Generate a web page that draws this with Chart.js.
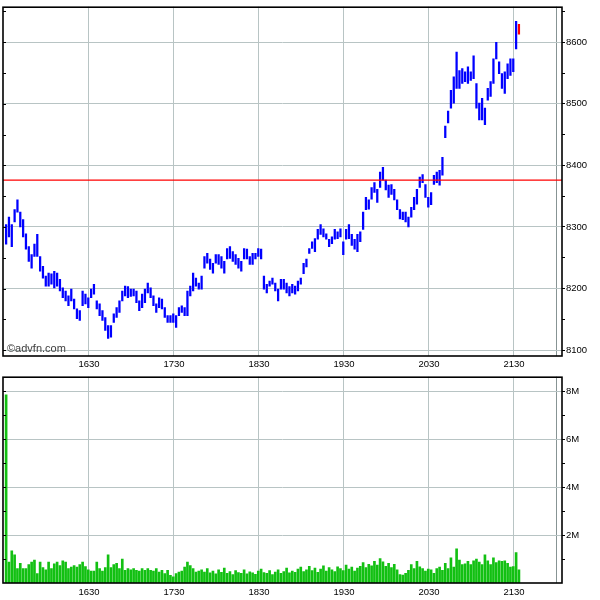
<!DOCTYPE html>
<html>
<head>
<meta charset="utf-8">
<script src="https://cdn.jsdelivr.net/npm/chart.js@4.4.1/dist/chart.umd.min.js"></script>
<style>
  html, body { margin: 0; padding: 0; background: #fff; }
  #wrap { position: relative; width: 600px; height: 600px; background: #fff; overflow: hidden; }
  .pane { position: absolute; left: 0; width: 600px; }
  #credit { position: absolute; left: 7px; top: 342px; font: 11px "Liberation Sans", Arial, sans-serif; line-height: 12px; color: #404040; }
</style>
</head>
<body>
<div id="wrap">
  <div class="pane" style="top:0;height:370px"><canvas id="price" width="600" height="370"></canvas></div>
  <div class="pane" style="top:370px;height:230px"><canvas id="vol" width="600" height="230"></canvas></div>
  <div id="credit">©advfn.com</div>
</div>
<script>
// ---- data ----
const START_MIN = 931.5;   // first bar time in minutes after midnight (15:31.5)
const STEP_MIN = 2;        // minutes between bars

const highs = [
  8304,8316,8304,8328,8344,8324,8312,8289,8268,8255,
  8272,8288,8252,8236,8220,8225,8224,8228,8225,8215,
  8201,8196,8188,8199,8183,8167,8164,8196,8191,8185,
  8199,8207,8180,8175,8164,8153,8140,8140,8159,8169,
  8180,8196,8204,8203,8199,8199,8196,8180,8191,8199,
  8209,8201,8188,8175,8185,8183,8169,8156,8156,8159,
  8156,8169,8172,8169,8196,8204,8225,8217,8209,8220,
  8252,8257,8248,8241,8255,8255,8252,8244,8265,8268,
  8260,8255,8249,8244,8265,8264,8252,8257,8257,8265,
  8264,8220,8207,8212,8217,8209,8199,8215,8215,8209,
  8203,8207,8204,8212,8217,8241,8248,8265,8276,8281,
  8296,8304,8297,8289,8280,8284,8296,8292,8297,8276,
  8296,8304,8288,8280,8288,8292,8324,8348,8344,8364,
  8372,8361,8389,8397,8376,8368,8369,8361,8344,8328,
  8324,8324,8316,8332,8348,8361,8381,8385,8369,8348,
  8356,8384,8389,8392,8413,8464,8488,8522,8544,8584,
  8554,8557,8552,8560,8552,8578,8533,8501,8509,8493,
  8525,8536,8573,8600,8568,8549,8552,8565,8573,8573,
  8634,8629
];
const lows = [
  8272,8284,8268,8308,8324,8300,8284,8264,8244,8233,
  8252,8252,8228,8217,8204,8204,8207,8201,8204,8196,
  8185,8180,8172,8180,8167,8151,8148,8172,8175,8169,
  8185,8191,8167,8156,8148,8132,8119,8121,8145,8153,
  8161,8180,8188,8185,8187,8188,8177,8164,8169,8177,
  8193,8185,8172,8161,8169,8167,8153,8145,8145,8145,
  8137,8156,8161,8156,8156,8188,8196,8204,8199,8199,
  8233,8241,8231,8225,8241,8239,8233,8225,8248,8249,
  8244,8239,8233,8228,8248,8248,8239,8239,8248,8252,
  8248,8199,8193,8204,8207,8196,8180,8199,8199,8193,
  8188,8193,8191,8196,8207,8224,8235,8257,8265,8260,
  8280,8288,8284,8280,8268,8273,8280,8281,8284,8255,
  8280,8281,8270,8264,8260,8276,8296,8328,8329,8345,
  8356,8340,8364,8376,8360,8348,8353,8344,8328,8313,
  8312,8308,8300,8316,8328,8337,8364,8372,8348,8332,
  8336,8369,8372,8368,8384,8445,8469,8493,8501,8525,
  8525,8533,8536,8533,8538,8541,8493,8474,8474,8466,
  8506,8512,8533,8573,8549,8525,8517,8541,8546,8552,
  8589,8613
];
// volume in millions
const volumes = [
  7.85,0.87,1.34,1.18,0.60,0.82,0.60,0.60,0.77,0.87,
  0.96,0.39,0.87,0.64,0.55,0.87,0.60,0.80,0.87,0.73,
  0.93,0.87,0.60,0.66,0.73,0.66,0.77,0.87,0.69,0.55,
  0.50,0.50,0.87,0.60,0.50,0.64,1.18,0.64,0.77,0.82,
  0.60,1.00,0.53,0.60,0.55,0.60,0.53,0.50,0.60,0.53,
  0.60,0.53,0.50,0.60,0.46,0.53,0.39,0.53,0.32,0.26,
  0.39,0.46,0.50,0.66,0.87,0.73,0.60,0.46,0.50,
  0.55,0.46,0.60,0.42,0.50,0.38,0.55,0.45,0.62,0.40,
  0.48,0.35,0.52,0.44,0.40,0.55,0.38,0.47,0.42,0.36,
  0.50,0.58,0.44,0.40,0.52,0.35,0.46,0.55,0.40,0.48,
  0.62,0.42,
  0.50,0.45,0.58,0.66,0.48,0.55,0.70,0.52,0.62,0.45,
  0.58,0.72,0.50,0.64,0.55,0.48,0.68,0.60,0.52,0.75,
  0.58,0.66,0.50,0.62,0.70,0.85,0.64,0.78,0.72,0.90,
  0.75,1.02,0.88,0.70,0.82,0.64,0.78,0.55,
  0.35,0.33,0.40,0.53,0.77,0.60,0.90,0.68,0.60,0.50,0.58,0.55,
  0.40,0.60,0.66,0.53,0.82,0.60,1.05,0.66,1.43,0.96,
  0.77,0.80,0.90,0.77,0.93,1.00,0.87,0.77,1.18,0.93,
  0.77,1.05,0.85,0.93,0.90,0.93,0.82,0.66,0.69,1.27,
  0.55
];
const REF_LEVEL = 8376;
const X_MIN = 929.3, X_MAX = 1323.9;
const xTickTimes  = [990, 1050, 1110, 1170, 1230, 1290, 1320];
const xTickLabels = ['1630','1730','1830','1930','2030','2130',''];
const priceTicks  = [8100,8150,8200,8250,8300,8350,8400,8450,8500,8550,8600,8650];
const priceLabels = ['8100','','8200','','8300','','8400','','8500','','8600',''];
const PRICE_MIN = 8090.4, PRICE_MAX = 8657.7;
const volTicks  = [1,2,3,4,5,6,7,8];
const volLabels = ['','2M','','4M','','6M','','8M'];
const VOL_MAX = 8.61;

// ---- helpers ----
const n = Math.min(highs.length, lows.length);
const times = Array.from({length: Math.max(n, volumes.length)}, (_, i) => START_MIN + i * STEP_MIN);
const FONT = { family: '"Liberation Sans", Arial, sans-serif', size: 9.5 };
const GRID = '#b8c4c4';
const GRID_DARK = '#879494';

const frame = {
  id: 'frame',
  afterDraw(chart) {
    const { ctx, chartArea: a } = chart;
    const ys = chart.scales.y;
    ctx.save();
    ctx.strokeStyle = '#000';
    ctx.lineWidth = 1;
    ys.ticks.forEach(t => {
      const py = Math.round(ys.getPixelForValue(t.value)) + 0.5;
      ctx.beginPath(); ctx.moveTo(a.left, py); ctx.lineTo(a.left + 3, py); ctx.stroke();
    });
    ctx.lineWidth = 1.6;
    ctx.strokeRect(a.left, a.top + 0.5, a.right - a.left, a.bottom - a.top - 0.5);
    ctx.restore();
  }
};

function xScale(showLabels, axisHeight, pad) {
  return {
    type: 'linear', min: X_MIN, max: X_MAX, offset: false,
    afterBuildTicks: s => { s.ticks = xTickTimes.map(v => ({ value: v })); },
    afterFit: s => { s.height = axisHeight; },
    ticks: {
      autoSkip: false, maxRotation: 0, padding: pad, color: '#000', font: FONT,
      display: showLabels,
      callback: v => { const k = xTickTimes.indexOf(v); return k >= 0 ? xTickLabels[k] : ''; }
    },
    grid: {
      offset: false, drawTicks: false, lineWidth: 1,
      color: c => (c.tick && c.tick.value === 1320) ? GRID_DARK : GRID
    },
    border: { display: false }
  };
}

function yScale(min, max, tickVals, tickLabs) {
  return {
    type: 'linear', position: 'right', min, max,
    afterBuildTicks: s => { s.ticks = tickVals.map(v => ({ value: v })); },
    afterFit: s => { s.width = 38; },
    ticks: {
      autoSkip: false, padding: 1, color: '#000', font: FONT,
      callback: v => { const k = tickVals.indexOf(v); return k >= 0 ? tickLabs[k] : ''; }
    },
    grid: {
      drawTicks: true, tickLength: 3, tickColor: '#000', lineWidth: 1,
      color: c => {
        const k = c.tick ? tickVals.indexOf(c.tick.value) : -1;
        return (k >= 0 && tickLabs[k] !== '') ? GRID : 'rgba(0,0,0,0)';
      }
    },
    border: { display: false }
  };
}

// ---- price chart ----
const priceData = [];
for (let i = 0; i < n; i++) priceData.push({ x: times[i], y: [lows[i], highs[i]] });

new Chart(document.getElementById('price'), {
  type: 'bar',
  data: {
    datasets: [
      {
        type: 'line', order: 0,
        data: [{ x: X_MIN, y: REF_LEVEL }, { x: X_MAX, y: REF_LEVEL }],
        borderColor: '#ff0000', borderWidth: 1.2, pointRadius: 0, fill: false
      },
      {
        type: 'bar', order: 1,
        data: priceData,
        barThickness: 1.6,
        backgroundColor: c => c.dataIndex === n - 1 ? '#ff0000' : '#0000ff',
        borderWidth: 0
      }
    ]
  },
  options: {
    responsive: false, animation: false, devicePixelRatio: 1,
    layout: { padding: { left: 3, top: 2, right: 0, bottom: 0 } },
    plugins: { legend: { display: false }, tooltip: { enabled: false } },
    scales: {
      x: xScale(true, 14, 3),
      y: yScale(PRICE_MIN, PRICE_MAX, priceTicks, priceLabels)
    }
  },
  plugins: [frame]
});

// ---- volume chart ----
const volData = volumes.map((v, i) => ({ x: times[i], y: v }));
new Chart(document.getElementById('vol'), {
  type: 'bar',
  data: {
    datasets: [{
      data: volData,
      barThickness: 2,
      backgroundColor: '#12c012',
      borderWidth: 0
    }]
  },
  options: {
    responsive: false, animation: false, devicePixelRatio: 1,
    layout: { padding: { left: 3, top: 0, right: 0, bottom: 0 } },
    plugins: { legend: { display: false }, tooltip: { enabled: false } },
    scales: {
      x: xScale(true, 17, 4),
      y: yScale(0, VOL_MAX, volTicks, volLabels)
    }
  },
  plugins: [frame]
});
</script>
</body>
</html>
